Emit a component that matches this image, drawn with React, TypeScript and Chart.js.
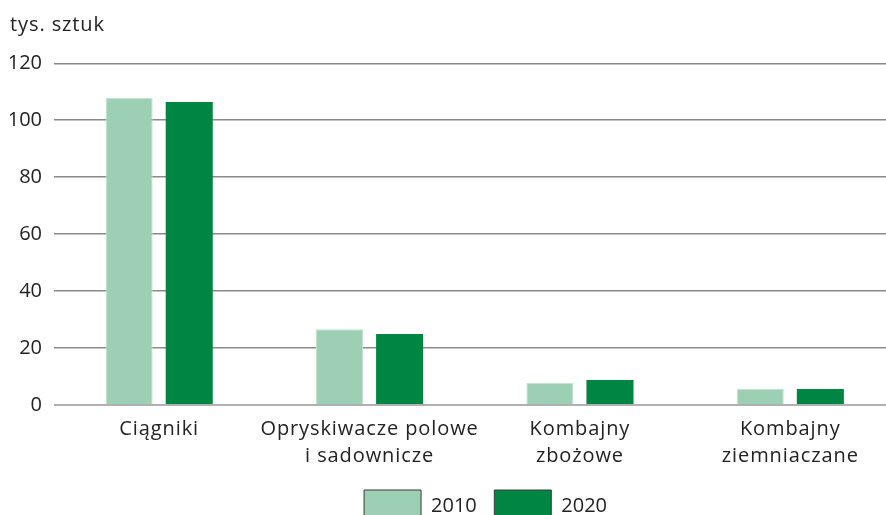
import React, { useEffect, useRef } from "react";
import { Chart, registerables } from "chart.js";

Chart.register(...registerables);

const categories: (string | string[])[] = [
  "Ciągniki",
  ["Opryskiwacze polowe", "i sadownicze"],
  ["Kombajny", "zbożowe"],
  ["Kombajny", "ziemniaczane"],
];
const seriesLabels = ["2010", "2020"];
const values2010 = [107.9, 26.6, 7.8, 5.6];
const values2020 = [106.4, 24.9, 8.8, 5.6];
const yMin = 0;
const yMax = 120;
const yStep = 20;
const unitLabel = "tys. sztuk";

const colors = ["#9ccfb4", "#008542"];
const FONT = "'Open Sans', 'Noto Sans', sans-serif";
const TEXT = "#222222";
const SPACING = "0.9px";

function noSpacing(obj: any, name: string) {
  const orig = obj[name];
  if (!orig || orig.__wrapped) return;
  const fn = function (this: any, ...args: any[]) {
    const ctx = this.ctx;
    const prev = ctx.letterSpacing;
    ctx.letterSpacing = "0px";
    try {
      return orig.apply(this, args);
    } finally {
      ctx.letterSpacing = prev;
    }
  };
  (fn as any).__wrapped = true;
  obj[name] = fn;
}

const spacingPlugin = {
  id: "spacing",
  afterInit(chart: any) {
    if (chart.legend) {
      noSpacing(chart.legend, "fit");
      noSpacing(chart.legend, "draw");
    }
  },
  beforeLayout(chart: any) {
    chart.ctx.letterSpacing = SPACING;
  },
  beforeDraw(chart: any) {
    chart.ctx.letterSpacing = SPACING;
  },
  beforeDatasetsDraw(chart: any) {
    chart.ctx.letterSpacing = "0px";
  },
};

const legendShift = {
  id: "legendShift",
  afterLayout(chart: any) {
    const l = chart.legend;
    if (l) {
      l.left += 32.8;
      l.right += 32.8;
    }
  },
};

export default function App() {
  const ref = useRef<HTMLCanvasElement | null>(null);

  useEffect(() => {
    if (!ref.current) return;
    const chart = new Chart(ref.current, {
      type: "bar",
      data: {
        labels: categories,
        datasets: [
          {
            label: seriesLabels[0],
            data: values2010,
            backgroundColor: colors[0],
            borderColor: "#c4e4d2",
            borderWidth: 1,
            categoryPercentage: 0.5714,
            barPercentage: 0.783,
          },
          {
            label: seriesLabels[1],
            data: values2020,
            backgroundColor: colors[1],
            borderWidth: 0,
            categoryPercentage: 0.5714,
            barPercentage: 0.783,
          },
        ],
      },
      options: {
        responsive: false,
        animation: false,
        layout: { padding: { left: 10, right: 4.5, top: 0, bottom: 0 } },
        font: { family: FONT, size: 20 },
        color: TEXT,
        plugins: {
          tooltip: { enabled: false },
          title: {
            display: true,
            text: unitLabel,
            align: "start",
            color: TEXT,
            font: { family: FONT, size: 20, weight: "normal", lineHeight: 1.2 },
            padding: { top: 13.5, bottom: 25.8 },
          },
          legend: {
            position: "bottom",
            labels: {
              boxWidth: 57,
              boxHeight: 32,
              padding: 17.5,
              color: TEXT,
              font: { family: FONT, size: 20 },
              generateLabels: (c: any) =>
                Chart.defaults.plugins.legend.labels
                  .generateLabels(c)
                  .map((l: any) => ({ ...l, strokeStyle: "#3a3a3a", lineWidth: 1 })),
            },
          },
        },
        scales: {
          x: {
            grid: { display: false, drawTicks: false },
            border: { display: false },
            ticks: {
              color: TEXT,
              padding: 10.1,
              maxRotation: 0,
              autoSkip: false,
              font: { family: FONT, size: 20, lineHeight: 1.375 },
            },
            afterFit: (s: any) => {
              s.height = 67.5;
            },
          },
          y: {
            min: yMin,
            max: yMax,
            ticks: {
              stepSize: yStep,
              color: TEXT,
              padding: 12,
              z: 1,
              font: { family: FONT, size: 20 },
            },
            grid: {
              drawTicks: false,
              color: (ctx: any) => (ctx.tick && ctx.tick.value === 0 ? "#b0b0b0" : "#8a8a8a"),
              lineWidth: (ctx: any) => (ctx.tick && ctx.tick.value === 0 ? 2 : 1.5),
            },
            border: { display: false },
            afterFit: (s: any) => {
              s.width = 44;
            },
          },
        },
      },
      plugins: [spacingPlugin, legendShift],
    } as any);
    return () => chart.destroy();
  }, []);

  return (
    <div
      style={{
        position: "fixed",
        left: 0,
        top: 0,
        width: 886,
        height: 515,
        overflow: "hidden",
        background: "#ffffff",
      }}
    >
      <canvas ref={ref} width={900} height={532} style={{ display: "block" }} />
    </div>
  );
}
